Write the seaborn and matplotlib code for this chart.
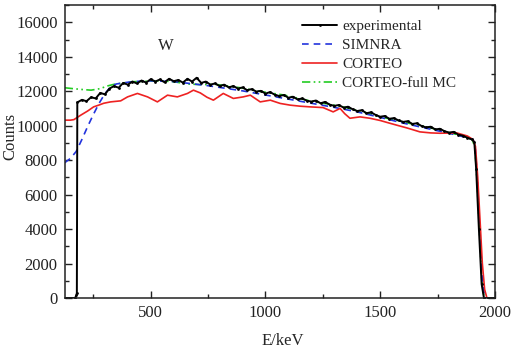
import numpy as np
import pandas as pd
import matplotlib
matplotlib.use("Agg")
import matplotlib.pyplot as plt
import seaborn as sns
from matplotlib.ticker import MultipleLocator

# experimental spectrum (E in keV, counts)
exp_E = [125, 150, 170, 176, 178,
         180, 200, 220, 240, 260, 280, 300, 320, 340, 360, 380, 400, 420, 440, 460, 480,
         500, 520, 540, 560, 580, 600, 620, 640, 660, 680, 700, 720, 740, 760, 780,
         800, 820, 840, 860, 880, 900, 920, 940, 960, 980, 1000, 1020, 1040, 1060, 1080,
         1100, 1120, 1140, 1160, 1180, 1200, 1220, 1240, 1260, 1280, 1300, 1320, 1340,
         1360, 1380, 1400, 1420, 1440, 1460, 1480, 1500, 1520, 1540, 1560, 1580, 1600,
         1620, 1640, 1660, 1680, 1700, 1720, 1740, 1760, 1780, 1800, 1820, 1840, 1860,
         1880, 1900, 1910, 1918, 1930, 1942, 1952, 1970, 2000]
exp_counts = [0, 0, 0, 150, 300,
              11350, 11500, 11420, 11650, 11580, 11900, 11820, 12150, 12300, 12200, 12480, 12380, 12560, 12450, 12620, 12500,
              12700, 12560, 12680, 12520, 12720, 12580, 12650, 12500, 12720, 12560, 12780, 12480, 12560, 12380, 12450,
              12300, 12380, 12220, 12300, 12150, 12220, 12060, 12120, 11980, 12020, 11860, 11950, 11800, 11720, 11780,
              11620, 11680, 11520, 11580, 11450, 11400, 11460, 11300, 11380, 11220, 11150, 11200, 11050,
              11100, 10950, 10850, 10900, 10720, 10780, 10620, 10520, 10560, 10400, 10440, 10300, 10220,
              10260, 10100, 10140, 9980, 9900, 9940, 9780, 9820, 9680, 9600, 9640, 9480, 9420,
              9300, 9200, 9050, 7500, 4000, 800, 0, 0, 0]

# SIMNRA simulation
simnra_E = [125, 150, 175, 200, 225, 250, 275, 300, 325, 350, 400, 450, 500, 550, 600, 650, 700,
            750, 800, 900, 1000, 1100, 1200, 1300, 1400, 1500, 1600, 1700, 1800, 1880, 1905,
            1915, 1925, 1935, 1945, 1955, 1965, 2000]
simnra_counts = [7850, 8100, 8500, 9200, 9950, 10650, 11300, 11850, 12250, 12420, 12520, 12580, 12600,
                 12580, 12560, 12480, 12400, 12320, 12220, 12020, 11780, 11540, 11300, 11060, 10800,
                 10480, 10150, 9850, 9560, 9300, 9200, 8600, 6500, 3500, 1000, 100, 0, 0]

# CORTEO simulation
corteo_E = [125, 150, 165, 195, 225, 251, 275, 295, 325, 369, 399, 442, 486, 529, 573, 616, 660,
            686, 716, 745, 773, 816, 860, 903, 934, 977, 1021, 1064, 1108, 1151, 1195, 1251,
            1295, 1325, 1345, 1368, 1412, 1455, 1500, 1542, 1580, 1616, 1673, 1720, 1760, 1833,
            1880, 1904, 1915, 1925, 1935, 1945, 1955, 1965, 2000]
corteo_counts = [10320, 10320, 10350, 10610, 10850, 11090, 11200, 11300, 11380, 11440, 11670, 11870,
                 11670, 11380, 11770, 11670, 11870, 12060, 11900, 11650, 11480, 11870, 11580, 11670,
                 11770, 11380, 11480, 11290, 11190, 11130, 11090, 11050, 10800, 11000, 10700, 10430,
                 10510, 10430, 10300, 10140, 10000, 9870, 9640, 9580, 9560, 9580, 9400, 9200, 8800,
                 7000, 4500, 2000, 500, 0, 0]

# CORTEO full Monte Carlo
mc_E = [125, 160, 200, 240, 280, 310, 340, 380, 420, 480, 540, 600, 660, 720, 780, 840, 900, 960,
        1020, 1080, 1140, 1200, 1260, 1320, 1380, 1440, 1500, 1560, 1620, 1680, 1740, 1800, 1860,
        1900, 1912, 1922, 1932, 1942, 1952, 1962, 2000]
mc_counts = [12200, 12150, 12100, 12060, 12150, 12300, 12400, 12480, 12550, 12580, 12600, 12550,
             12420, 12380, 12400, 12300, 12180, 12020, 11900, 11780, 11600, 11420, 11280, 11150,
             10950, 10750, 10500, 10350, 10150, 10000, 9800, 9600, 9400, 9200, 8800, 6800, 4000,
             1200, 100, 0, 0]

sns.set_theme(style="ticks")
plt.rcParams['font.family'] = ['Liberation Serif', 'DejaVu Serif']

fig = plt.figure(figsize=(5.11, 3.5), dpi=100)
ax = fig.add_axes([0.1266, 0.1486, 0.842, 0.837])

sns.lineplot(x=mc_E, y=mc_counts, ax=ax, color='#22cc22', linewidth=1.2,
             label='CORTEO-full MC', legend=False)
ax.lines[-1].set_dashes([5, 2, 1, 2, 1, 2])
sns.lineplot(x=simnra_E, y=simnra_counts, ax=ax, color='#2233dd', linewidth=1.2,
             label='SIMNRA', legend=False)
ax.lines[-1].set_dashes([4, 3])
sns.lineplot(x=corteo_E, y=corteo_counts, ax=ax, color='#ee2222', linewidth=1.2,
             label='CORTEO', legend=False)
sns.lineplot(x=exp_E, y=exp_counts, ax=ax, color='black', linewidth=1.4,
             marker='o', markersize=2, markeredgewidth=0, label='experimental', legend=False)

# 범례 순서: experimental 먼저
h_mc, h_sim, h_cor, h_exp = ax.lines[-4:]
ax.legend([h_exp, h_sim, h_cor, h_mc], ['experimental', 'SIMNRA', 'CORTEO', 'CORTEO-full MC'],
          loc='upper left', bbox_to_anchor=(0.552, 0.951), frameon=False, fontsize=11,
          handlelength=2.3, handletextpad=0.3, labelspacing=0.35, borderpad=0,
          borderaxespad=0)

ax.text(565, 14650, 'W', fontsize=12, ha='center', va='center')

ax.set_xlim(125, 2000)
ax.set_ylim(0, 17000)
ax.xaxis.set_major_locator(MultipleLocator(500))
ax.xaxis.set_minor_locator(MultipleLocator(250))
ax.yaxis.set_major_locator(MultipleLocator(2000))
ax.yaxis.set_minor_locator(MultipleLocator(1000))
ax.tick_params(which='both', direction='in', top=True, right=True, colors='#222222',
               labelsize=12)
ax.tick_params(which='major', length=5, width=1, pad=5)
ax.tick_params(which='minor', length=3, width=1)
for s in ax.spines.values():
    s.set_linewidth(1.1)
    s.set_color('#222222')

ax.set_xlabel('E/keV', fontsize=12)
ax.set_ylabel('Counts', fontsize=12)
ax.xaxis.set_label_coords(0.507, -0.118)
ax.yaxis.set_label_coords(-0.108, 0.551)

fig.savefig('out.png', dpi=100)
